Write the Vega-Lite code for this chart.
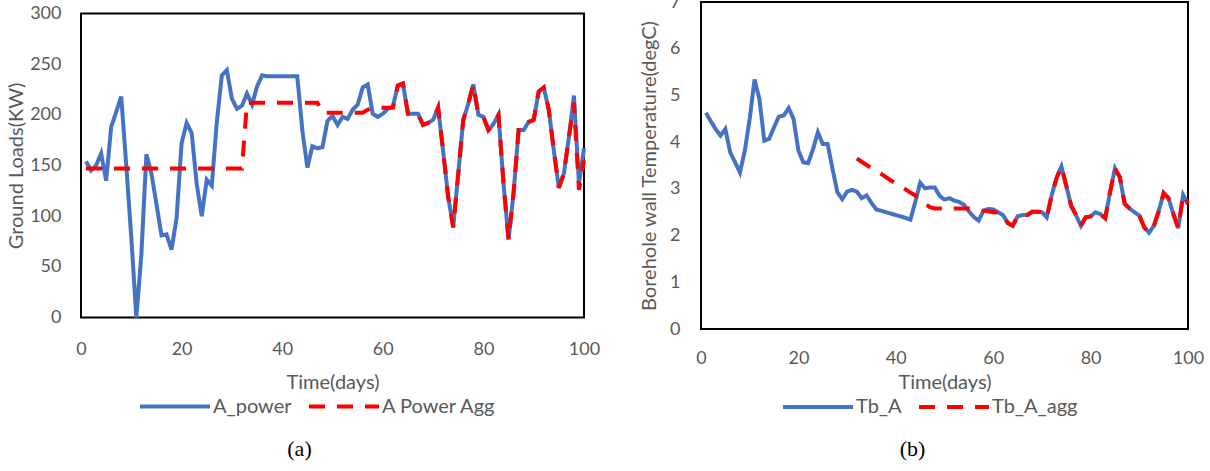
{
"$schema": "https://vega.github.io/schema/vega-lite/v6.json",
"autosize": {"type": "pad"},
"padding": {"left": 5, "top": -8, "right": 5, "bottom": 0},
"background": "white",
"spacing": 117,
"bounds": "flush",
"center": true,
"config": {
  "view": {"stroke": "black", "strokeWidth": 2},
  "font": "Lato",
  "axis": {"domain": false, "ticks": false, "grid": false, "labelFlush": false, "labelFont": "Lato", "labelFontSize": 18, "labelColor": "#595959", "titleFont": "Lato", "titleFontSize": 20, "titleFontWeight": "normal", "titleColor": "#595959"},
  "legend": {"orient": "none", "direction": "horizontal", "symbolType": "stroke", "symbolSize": 4900, "symbolStrokeWidth": 4, "labelFont": "Lato", "labelFontSize": 20, "labelColor": "#595959", "columnPadding": 9, "labelOffset": 1, "padding": 0}
},
"resolve": {"scale": {"x": "independent", "y": "independent", "color": "independent", "strokeDash": "independent"}, "legend": {"color": "independent", "strokeDash": "independent"}},
"hconcat": [
{
  "width": 503, "height": 304,
  "title": {"text": "(a)", "orient": "bottom", "frame": "group", "anchor": "middle", "dx": -33, "offset": 22, "font": "Liberation Serif", "fontSize": 22, "fontWeight": "normal", "color": "black"},
  "encoding": {
    "x": {"field": "day", "type": "quantitative", "scale": {"domain": [0, 100], "nice": false}, "axis": {"values": [0, 20, 40, 60, 80, 100], "title": "Time(days)", "labelPadding": 23, "titlePadding": 14}},
    "y": {"field": "v", "type": "quantitative", "scale": {"domain": [0, 300], "nice": false}, "axis": {"values": [0, 50, 100, 150, 200, 250, 300], "title": "Ground Loads(KW)", "labelPadding": 20, "titlePadding": 3}},
    "color": {"field": "series", "type": "nominal", "scale": {"domain": ["A_power", "A Power Agg"], "range": ["#4472C4", "#FF0000"]}, "legend": {"title": null, "legendX": 57, "legendY": 356}},
    "strokeDash": {"field": "series", "type": "nominal", "scale": {"domain": ["A_power", "A Power Agg"], "range": [[1, 0], [16, 12]]}, "legend": {"title": null, "legendX": 57, "legendY": 356}}
  },
  "layer": [
    {"data": {"values": [
{"day":1,"series":"A_power","v":154},{"day":2,"series":"A_power","v":145},{"day":3,"series":"A_power","v":150},{"day":4,"series":"A_power","v":162},{"day":5,"series":"A_power","v":135},{"day":6,"series":"A_power","v":188},{"day":7,"series":"A_power","v":203},{"day":8,"series":"A_power","v":218},{"day":9,"series":"A_power","v":150},{"day":10,"series":"A_power","v":79},
{"day":11,"series":"A_power","v":0},{"day":12,"series":"A_power","v":62},{"day":13,"series":"A_power","v":161},{"day":14,"series":"A_power","v":142},{"day":15,"series":"A_power","v":112},{"day":16,"series":"A_power","v":81},{"day":17,"series":"A_power","v":82},{"day":18,"series":"A_power","v":67},{"day":19,"series":"A_power","v":98},{"day":20,"series":"A_power","v":172},
{"day":21,"series":"A_power","v":192},{"day":22,"series":"A_power","v":182},{"day":23,"series":"A_power","v":132},{"day":24,"series":"A_power","v":100},{"day":25,"series":"A_power","v":136},{"day":26,"series":"A_power","v":130},{"day":27,"series":"A_power","v":193},{"day":28,"series":"A_power","v":239},{"day":29,"series":"A_power","v":244},{"day":30,"series":"A_power","v":216},
{"day":31,"series":"A_power","v":206},{"day":32,"series":"A_power","v":209},{"day":33,"series":"A_power","v":221},{"day":34,"series":"A_power","v":210},{"day":35,"series":"A_power","v":228},{"day":36,"series":"A_power","v":239},{"day":37,"series":"A_power","v":238},{"day":38,"series":"A_power","v":238},{"day":39,"series":"A_power","v":238},{"day":40,"series":"A_power","v":238},
{"day":41,"series":"A_power","v":238},{"day":42,"series":"A_power","v":238},{"day":43,"series":"A_power","v":238},{"day":44,"series":"A_power","v":185},{"day":45,"series":"A_power","v":148},{"day":46,"series":"A_power","v":169},{"day":47,"series":"A_power","v":167},{"day":48,"series":"A_power","v":168},{"day":49,"series":"A_power","v":194},{"day":50,"series":"A_power","v":199},
{"day":51,"series":"A_power","v":190},{"day":52,"series":"A_power","v":198},{"day":53,"series":"A_power","v":196},{"day":54,"series":"A_power","v":205},{"day":55,"series":"A_power","v":210},{"day":56,"series":"A_power","v":227},{"day":57,"series":"A_power","v":230},{"day":58,"series":"A_power","v":201},{"day":59,"series":"A_power","v":198},{"day":60,"series":"A_power","v":201},
{"day":61,"series":"A_power","v":206},{"day":62,"series":"A_power","v":208},{"day":63,"series":"A_power","v":229},{"day":64,"series":"A_power","v":231},{"day":65,"series":"A_power","v":201},{"day":66,"series":"A_power","v":201},{"day":67,"series":"A_power","v":201},{"day":68,"series":"A_power","v":190},{"day":69,"series":"A_power","v":192},{"day":70,"series":"A_power","v":195},
{"day":71,"series":"A_power","v":207},{"day":72,"series":"A_power","v":164},{"day":73,"series":"A_power","v":119},{"day":74,"series":"A_power","v":89},{"day":75,"series":"A_power","v":142},{"day":76,"series":"A_power","v":195},{"day":77,"series":"A_power","v":211},{"day":78,"series":"A_power","v":230},{"day":79,"series":"A_power","v":200},{"day":80,"series":"A_power","v":198},
{"day":81,"series":"A_power","v":185},{"day":82,"series":"A_power","v":191},{"day":83,"series":"A_power","v":200},{"day":84,"series":"A_power","v":132},{"day":85,"series":"A_power","v":77},{"day":86,"series":"A_power","v":123},{"day":87,"series":"A_power","v":185},{"day":88,"series":"A_power","v":185},{"day":89,"series":"A_power","v":193},{"day":90,"series":"A_power","v":195},
{"day":91,"series":"A_power","v":223},{"day":92,"series":"A_power","v":227},{"day":93,"series":"A_power","v":205},{"day":94,"series":"A_power","v":165},{"day":95,"series":"A_power","v":128},{"day":96,"series":"A_power","v":142},{"day":97,"series":"A_power","v":178},{"day":98,"series":"A_power","v":219},{"day":99,"series":"A_power","v":132},{"day":100,"series":"A_power","v":167}
    ]}, "mark": {"type": "line", "strokeWidth": 4}},
    {"data": {"values": [
{"day":1,"series":"A Power Agg","v":147},{"day":32,"series":"A Power Agg","v":147},{"day":33,"series":"A Power Agg","v":212},{"day":47,"series":"A Power Agg","v":212},{"day":48,"series":"A Power Agg","v":202},{"day":56,"series":"A Power Agg","v":202},{"day":57,"series":"A Power Agg","v":205},{"day":58,"series":"A Power Agg","v":207},{"day":62,"series":"A Power Agg","v":207},
{"day":63,"series":"A Power Agg","v":229},{"day":64,"series":"A Power Agg","v":231},{"day":65,"series":"A Power Agg","v":201},{"day":66,"series":"A Power Agg","v":201},{"day":67,"series":"A Power Agg","v":201},{"day":68,"series":"A Power Agg","v":190},{"day":69,"series":"A Power Agg","v":192},{"day":70,"series":"A Power Agg","v":195},
{"day":71,"series":"A Power Agg","v":207},{"day":72,"series":"A Power Agg","v":164},{"day":73,"series":"A Power Agg","v":119},{"day":74,"series":"A Power Agg","v":89},{"day":75,"series":"A Power Agg","v":142},{"day":76,"series":"A Power Agg","v":195},{"day":77,"series":"A Power Agg","v":211},{"day":78,"series":"A Power Agg","v":230},{"day":79,"series":"A Power Agg","v":200},{"day":80,"series":"A Power Agg","v":198},
{"day":81,"series":"A Power Agg","v":185},{"day":82,"series":"A Power Agg","v":191},{"day":83,"series":"A Power Agg","v":200},{"day":84,"series":"A Power Agg","v":132},{"day":85,"series":"A Power Agg","v":77},{"day":86,"series":"A Power Agg","v":123},{"day":87,"series":"A Power Agg","v":185},{"day":88,"series":"A Power Agg","v":185},{"day":89,"series":"A Power Agg","v":193},{"day":90,"series":"A Power Agg","v":195},
{"day":91,"series":"A Power Agg","v":223},{"day":92,"series":"A Power Agg","v":227},{"day":93,"series":"A Power Agg","v":205},{"day":94,"series":"A Power Agg","v":165},{"day":95,"series":"A Power Agg","v":128},{"day":96,"series":"A Power Agg","v":142},{"day":97,"series":"A Power Agg","v":178},{"day":98,"series":"A Power Agg","v":212},{"day":99,"series":"A Power Agg","v":126},{"day":100,"series":"A Power Agg","v":155}
    ]}, "mark": {"type": "line", "strokeWidth": 4}}
  ]
},
{
  "width": 487, "height": 327,
  "title": {"text": "(b)", "orient": "bottom", "frame": "group", "anchor": "middle", "dx": -32, "offset": 22, "font": "Liberation Serif", "fontSize": 22, "fontWeight": "normal", "color": "black"},
  "encoding": {
    "x": {"field": "day", "type": "quantitative", "scale": {"domain": [0, 100], "nice": false}, "axis": {"values": [0, 20, 40, 60, 80, 100], "title": "Time(days)", "labelPadding": 20, "titlePadding": 5}},
    "y": {"field": "v", "type": "quantitative", "scale": {"domain": [0, 7], "nice": false}, "axis": {"values": [0, 1, 2, 3, 4, 5, 6, 7], "title": "Borehole wall Temperature(degC)", "labelPadding": 21, "titlePadding": 10}},
    "color": {"field": "series", "type": "nominal", "scale": {"domain": ["Tb_A", "Tb_A_agg"], "range": ["#4472C4", "#FF0000"]}, "legend": {"title": null, "legendX": 80, "legendY": 368}},
    "strokeDash": {"field": "series", "type": "nominal", "scale": {"domain": ["Tb_A", "Tb_A_agg"], "range": [[1, 0], [16, 12]]}, "legend": {"title": null, "legendX": 80, "legendY": 368}}
  },
  "layer": [
    {"data": {"values": [
{"day":1,"series":"Tb_A","v":4.63},{"day":2,"series":"Tb_A","v":4.45},{"day":3,"series":"Tb_A","v":4.28},{"day":4,"series":"Tb_A","v":4.14},{"day":5,"series":"Tb_A","v":4.28},{"day":6,"series":"Tb_A","v":3.78},{"day":7,"series":"Tb_A","v":3.57},{"day":8,"series":"Tb_A","v":3.35},{"day":9,"series":"Tb_A","v":3.82},{"day":10,"series":"Tb_A","v":4.5},
{"day":11,"series":"Tb_A","v":5.34},{"day":12,"series":"Tb_A","v":4.92},{"day":13,"series":"Tb_A","v":4.03},{"day":14,"series":"Tb_A","v":4.07},{"day":15,"series":"Tb_A","v":4.32},{"day":16,"series":"Tb_A","v":4.55},{"day":17,"series":"Tb_A","v":4.57},{"day":18,"series":"Tb_A","v":4.73},{"day":19,"series":"Tb_A","v":4.5},{"day":20,"series":"Tb_A","v":3.82},
{"day":21,"series":"Tb_A","v":3.57},{"day":22,"series":"Tb_A","v":3.55},{"day":23,"series":"Tb_A","v":3.85},{"day":24,"series":"Tb_A","v":4.21},{"day":25,"series":"Tb_A","v":3.96},{"day":26,"series":"Tb_A","v":3.96},{"day":27,"series":"Tb_A","v":3.43},{"day":28,"series":"Tb_A","v":2.93},{"day":29,"series":"Tb_A","v":2.78},{"day":30,"series":"Tb_A","v":2.94},
{"day":31,"series":"Tb_A","v":2.98},{"day":32,"series":"Tb_A","v":2.94},{"day":33,"series":"Tb_A","v":2.8},{"day":34,"series":"Tb_A","v":2.86},{"day":35,"series":"Tb_A","v":2.7},{"day":36,"series":"Tb_A","v":2.56},{"day":37,"series":"Tb_A","v":2.53},{"day":38,"series":"Tb_A","v":2.5},{"day":39,"series":"Tb_A","v":2.47},{"day":40,"series":"Tb_A","v":2.44},
{"day":41,"series":"Tb_A","v":2.41},{"day":42,"series":"Tb_A","v":2.38},{"day":43,"series":"Tb_A","v":2.34},{"day":44,"series":"Tb_A","v":2.72},{"day":45,"series":"Tb_A","v":3.13},{"day":46,"series":"Tb_A","v":3.01},{"day":47,"series":"Tb_A","v":3.03},{"day":48,"series":"Tb_A","v":3.03},{"day":49,"series":"Tb_A","v":2.85},{"day":50,"series":"Tb_A","v":2.77},
{"day":51,"series":"Tb_A","v":2.8},{"day":52,"series":"Tb_A","v":2.75},{"day":53,"series":"Tb_A","v":2.72},{"day":54,"series":"Tb_A","v":2.66},{"day":55,"series":"Tb_A","v":2.52},{"day":56,"series":"Tb_A","v":2.4},{"day":57,"series":"Tb_A","v":2.32},{"day":58,"series":"Tb_A","v":2.53},{"day":59,"series":"Tb_A","v":2.57},{"day":60,"series":"Tb_A","v":2.56},
{"day":61,"series":"Tb_A","v":2.5},{"day":62,"series":"Tb_A","v":2.44},{"day":63,"series":"Tb_A","v":2.27},{"day":64,"series":"Tb_A","v":2.21},{"day":65,"series":"Tb_A","v":2.41},{"day":66,"series":"Tb_A","v":2.44},{"day":67,"series":"Tb_A","v":2.44},{"day":68,"series":"Tb_A","v":2.51},{"day":69,"series":"Tb_A","v":2.51},{"day":70,"series":"Tb_A","v":2.5},
{"day":71,"series":"Tb_A","v":2.39},{"day":72,"series":"Tb_A","v":2.86},{"day":73,"series":"Tb_A","v":3.23},{"day":74,"series":"Tb_A","v":3.48},{"day":75,"series":"Tb_A","v":3.07},{"day":76,"series":"Tb_A","v":2.64},{"day":77,"series":"Tb_A","v":2.44},{"day":78,"series":"Tb_A","v":2.21},{"day":79,"series":"Tb_A","v":2.39},{"day":80,"series":"Tb_A","v":2.41},
{"day":81,"series":"Tb_A","v":2.5},{"day":82,"series":"Tb_A","v":2.46},{"day":83,"series":"Tb_A","v":2.37},{"day":84,"series":"Tb_A","v":2.93},{"day":85,"series":"Tb_A","v":3.44},{"day":86,"series":"Tb_A","v":3.25},{"day":87,"series":"Tb_A","v":2.68},{"day":88,"series":"Tb_A","v":2.58},{"day":89,"series":"Tb_A","v":2.5},{"day":90,"series":"Tb_A","v":2.43},
{"day":91,"series":"Tb_A","v":2.18},{"day":92,"series":"Tb_A","v":2.06},{"day":93,"series":"Tb_A","v":2.21},{"day":94,"series":"Tb_A","v":2.53},{"day":95,"series":"Tb_A","v":2.91},{"day":96,"series":"Tb_A","v":2.8},{"day":97,"series":"Tb_A","v":2.46},{"day":98,"series":"Tb_A","v":2.16},{"day":99,"series":"Tb_A","v":2.87},{"day":100,"series":"Tb_A","v":2.68}
    ]}, "mark": {"type": "line", "strokeWidth": 4}},
    {"data": {"values": [
{"day":32,"series":"Tb_A_agg","v":3.65},{"day":33,"series":"Tb_A_agg","v":3.58},{"day":34,"series":"Tb_A_agg","v":3.51},{"day":35,"series":"Tb_A_agg","v":3.45},{"day":36,"series":"Tb_A_agg","v":3.38},{"day":37,"series":"Tb_A_agg","v":3.32},{"day":38,"series":"Tb_A_agg","v":3.25},{"day":39,"series":"Tb_A_agg","v":3.18},{"day":40,"series":"Tb_A_agg","v":3.12},
{"day":41,"series":"Tb_A_agg","v":3.05},{"day":42,"series":"Tb_A_agg","v":2.99},{"day":43,"series":"Tb_A_agg","v":2.92},{"day":44,"series":"Tb_A_agg","v":2.86},{"day":45,"series":"Tb_A_agg","v":2.77},{"day":46,"series":"Tb_A_agg","v":2.68},{"day":47,"series":"Tb_A_agg","v":2.61},{"day":48,"series":"Tb_A_agg","v":2.58},{"day":49,"series":"Tb_A_agg","v":2.58},{"day":50,"series":"Tb_A_agg","v":2.58},
{"day":51,"series":"Tb_A_agg","v":2.58},{"day":52,"series":"Tb_A_agg","v":2.58},{"day":53,"series":"Tb_A_agg","v":2.58},{"day":54,"series":"Tb_A_agg","v":2.58},{"day":55,"series":"Tb_A_agg","v":2.58},{"day":56,"series":"Tb_A_agg","v":2.57},{"day":57,"series":"Tb_A_agg","v":2.55},{"day":58,"series":"Tb_A_agg","v":2.53},{"day":59,"series":"Tb_A_agg","v":2.52},{"day":60,"series":"Tb_A_agg","v":2.5},
{"day":61,"series":"Tb_A_agg","v":2.49},{"day":62,"series":"Tb_A_agg","v":2.44},{"day":63,"series":"Tb_A_agg","v":2.27},{"day":64,"series":"Tb_A_agg","v":2.21},{"day":65,"series":"Tb_A_agg","v":2.41},{"day":66,"series":"Tb_A_agg","v":2.44},{"day":67,"series":"Tb_A_agg","v":2.44},{"day":68,"series":"Tb_A_agg","v":2.51},{"day":69,"series":"Tb_A_agg","v":2.51},{"day":70,"series":"Tb_A_agg","v":2.5},
{"day":71,"series":"Tb_A_agg","v":2.39},{"day":72,"series":"Tb_A_agg","v":2.86},{"day":73,"series":"Tb_A_agg","v":3.23},{"day":74,"series":"Tb_A_agg","v":3.48},{"day":75,"series":"Tb_A_agg","v":3.07},{"day":76,"series":"Tb_A_agg","v":2.64},{"day":77,"series":"Tb_A_agg","v":2.44},{"day":78,"series":"Tb_A_agg","v":2.21},{"day":79,"series":"Tb_A_agg","v":2.39},{"day":80,"series":"Tb_A_agg","v":2.41},
{"day":81,"series":"Tb_A_agg","v":2.5},{"day":82,"series":"Tb_A_agg","v":2.46},{"day":83,"series":"Tb_A_agg","v":2.37},{"day":84,"series":"Tb_A_agg","v":2.93},{"day":85,"series":"Tb_A_agg","v":3.44},{"day":86,"series":"Tb_A_agg","v":3.25},{"day":87,"series":"Tb_A_agg","v":2.68},{"day":88,"series":"Tb_A_agg","v":2.58},{"day":89,"series":"Tb_A_agg","v":2.5},{"day":90,"series":"Tb_A_agg","v":2.43},
{"day":91,"series":"Tb_A_agg","v":2.18},{"day":92,"series":"Tb_A_agg","v":2.06},{"day":93,"series":"Tb_A_agg","v":2.21},{"day":94,"series":"Tb_A_agg","v":2.53},{"day":95,"series":"Tb_A_agg","v":2.91},{"day":96,"series":"Tb_A_agg","v":2.8},{"day":97,"series":"Tb_A_agg","v":2.46},{"day":98,"series":"Tb_A_agg","v":2.16},{"day":99,"series":"Tb_A_agg","v":2.87},{"day":100,"series":"Tb_A_agg","v":2.68}
    ]}, "mark": {"type": "line", "strokeWidth": 4}}
  ]
}
]
}
